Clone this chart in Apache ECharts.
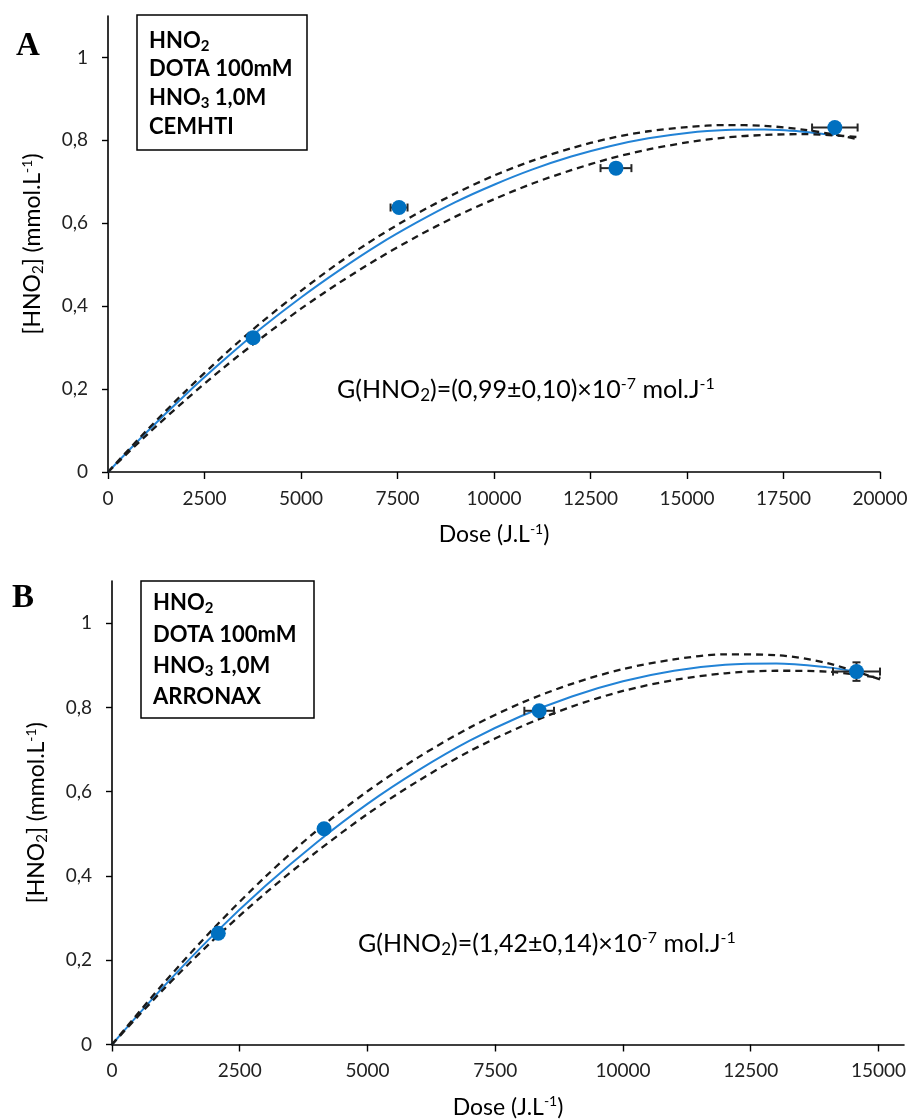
<!DOCTYPE html>
<html><head><meta charset="utf-8">
<script src="https://cdn.jsdelivr.net/npm/echarts@6/dist/echarts.min.js"></script>
<style>html,body{margin:0;padding:0;background:#fff}#c{width:911px;height:1120px}</style>
</head><body><div id="c"></div>
<script>
// ---------- data ----------
const xTicksA = [0, 2500, 5000, 7500, 10000, 12500, 15000, 17500, 20000];
const xTicksB = [0, 2500, 5000, 7500, 10000, 12500, 15000];
const yTicks = [0, 0.2, 0.4, 0.6, 0.8, 1];

// Panel A (CEMHTI)
const doseA = [3760, 7540, 13160, 18830];
const hno2A = [0.324, 0.638, 0.733, 0.831];
const doseErrA = [100, 220, 400, 590];
const hno2ErrA = [0.004, 0.006, 0.008, 0.010];
const fitA = [[0,0],[1000,0.096],[2000,0.186],[3000,0.270],[4000,0.349],[5000,0.421],[6000,0.487],[7000,0.548],[8000,0.602],[9000,0.651],[10000,0.693],[11000,0.730],[12000,0.761],[13000,0.786],[14000,0.805],[15000,0.818],[16000,0.825],[17000,0.826],[18000,0.821],[18800,0.813]];
const upperA = [[0,0],[1000,0.100],[2000,0.194],[3000,0.282],[4000,0.363],[5000,0.437],[6000,0.506],[7000,0.568],[8000,0.623],[9000,0.672],[10000,0.715],[11000,0.751],[12000,0.781],[13000,0.805],[14000,0.822],[15000,0.832],[16000,0.837],[17000,0.835],[18000,0.826],[19000,0.811],[19400,0.803]];
const lowerA = [[0,0],[1000,0.089],[2000,0.173],[3000,0.252],[4000,0.325],[5000,0.394],[6000,0.457],[7000,0.515],[8000,0.568],[9000,0.616],[10000,0.658],[11000,0.696],[12000,0.728],[13000,0.756],[14000,0.778],[15000,0.795],[16000,0.807],[17000,0.813],[18000,0.815],[19000,0.811],[19400,0.808]];

// Panel B (ARRONAX)
const doseB = [2080, 4150, 8360, 14570];
const hno2B = [0.264, 0.512, 0.792, 0.885];
const doseErrB = [60, 90, 290, 460];
const hno2ErrB = [0.004, 0.006, 0.010, 0.022];
const fitB = [[0,0],[1000,0.136],[2000,0.262],[3000,0.376],[4000,0.479],[5000,0.571],[6000,0.651],[7000,0.721],[8000,0.779],[9000,0.826],[10000,0.862],[11000,0.887],[12000,0.901],[13000,0.904],[14000,0.895],[14570,0.885]];
const upperB = [[0,0],[1000,0.144],[2000,0.277],[3000,0.398],[4000,0.507],[5000,0.601],[6000,0.682],[7000,0.752],[8000,0.810],[9000,0.856],[10000,0.891],[11000,0.914],[12000,0.926],[13000,0.924],[14000,0.905],[15040,0.866]];
const lowerB = [[0,0],[1000,0.130],[2000,0.250],[3000,0.359],[4000,0.457],[5000,0.547],[6000,0.626],[7000,0.696],[8000,0.754],[9000,0.802],[10000,0.839],[11000,0.865],[12000,0.881],[13000,0.887],[14000,0.885],[15040,0.870]];

// ---------- chart ----------
const FONT = 'Lato';
const BLUE_PT = '#0070C0';
const BLUE_LN = '#2283D6';
const numFmt = v => String(Math.round(v * 10) / 10).replace('.', ',');

function xAxisCfg(gridIndex, max, ticks) {
  return {
    type: 'value', gridIndex, min: 0, max,
    name: '{n|Dose (J.L}{sup|-1}{n|)}', nameLocation: 'middle', nameGap: 50,
    nameTextStyle: { fontFamily: FONT, fontSize: 23, color: '#000',
      rich: { n: { fontFamily: FONT, fontSize: 23, color: '#000', lineHeight: 26 },
              sup: { fontFamily: FONT, fontSize: 14, color: '#000', verticalAlign: 'top', lineHeight: 16 } } },
    axisLine: { show: true, onZero: false, lineStyle: { color: '#000', width: 1.6 } },
    axisTick: { show: true, inside: false, length: 7, customValues: ticks, lineStyle: { color: '#000', width: 1.4 } },
    axisLabel: { customValues: ticks, margin: 17, fontFamily: FONT, fontSize: 19, color: '#222', formatter: v => String(v) },
    splitLine: { show: false }
  };
}
function yAxisCfg(gridIndex) {
  return {
    type: 'value', gridIndex, min: 0, max: 1.1,
    name: '{n|[HNO}{sub|2}{n|] (mmol.L}{sup|-1}{n|)}', nameLocation: 'middle', nameGap: 62, nameRotate: 90,
    nameTextStyle: { fontFamily: FONT, fontSize: 23, color: '#000',
      rich: {
        n: { fontFamily: FONT, fontSize: 23, color: '#000', lineHeight: 26 },
        sub: { fontFamily: FONT, fontSize: 15, color: '#000', verticalAlign: 'bottom', lineHeight: 10 },
        sup: { fontFamily: FONT, fontSize: 14, color: '#000', verticalAlign: 'top', lineHeight: 16 } } },
    axisLine: { show: true, onZero: false, lineStyle: { color: '#000', width: 1.6 } },
    axisTick: { show: true, inside: false, length: 6, customValues: yTicks, lineStyle: { color: '#000', width: 1.4 } },
    axisLabel: { customValues: yTicks, margin: 20, fontFamily: FONT, fontSize: 19, color: '#222', formatter: numFmt },
    splitLine: { show: false }
  };
}
function lineSeries(idx, data, dashed) {
  return {
    type: 'line', xAxisIndex: idx, yAxisIndex: idx, data, smooth: 0.3, symbol: 'none', silent: true,
    lineStyle: dashed ? { color: '#1a1a1a', width: 2.3, type: [7, 5] } : { color: BLUE_LN, width: 2 },
    z: dashed ? 3 : 2
  };
}
function errSeries(idx, xs, ys, ex, ey) {
  return {
    type: 'custom', xAxisIndex: idx, yAxisIndex: idx, z: 4, silent: true,
    data: xs.map((x, i) => [x, ys[i], ex[i], ey[i]]),
    renderItem: (params, api) => {
      const x = api.value(0), y = api.value(1), dx = api.value(2), dy = api.value(3);
      const l = api.coord([x - dx, y]), r = api.coord([x + dx, y]);
      const t = api.coord([x, y + dy]), b = api.coord([x, y - dy]);
      const st = { stroke: '#262626', lineWidth: 2 };
      const c = 4;
      return { type: 'group', children: [
        { type: 'line', shape: { x1: l[0], y1: l[1], x2: r[0], y2: r[1] }, style: st },
        { type: 'line', shape: { x1: l[0], y1: l[1] - c, x2: l[0], y2: l[1] + c }, style: st },
        { type: 'line', shape: { x1: r[0], y1: r[1] - c, x2: r[0], y2: r[1] + c }, style: st },
        { type: 'line', shape: { x1: t[0], y1: t[1], x2: b[0], y2: b[1] }, style: st },
        { type: 'line', shape: { x1: t[0] - c, y1: t[1], x2: t[0] + c, y2: t[1] }, style: st },
        { type: 'line', shape: { x1: b[0] - c, y1: b[1], x2: b[0] + c, y2: b[1] }, style: st }
      ] };
    }
  };
}
function scatterSeries(idx, xs, ys) {
  return { type: 'scatter', xAxisIndex: idx, yAxisIndex: idx, z: 6, silent: true,
    data: xs.map((x, i) => [x, ys[i]]), symbol: 'circle', symbolSize: 15,
    itemStyle: { color: BLUE_PT, opacity: 1 } };
}

const boxRich = {
  b: { fontFamily: FONT, fontWeight: 'bold', fontSize: 22, fill: '#000', lineHeight: 26 },
  s: { fontFamily: FONT, fontWeight: 'bold', fontSize: 15, fill: '#000', verticalAlign: 'bottom', lineHeight: 10 }
};
function boxText(x, y, txt) {
  return { type: 'text', x, y, silent: true, z: 11,
    style: { text: txt, rich: boxRich, fontFamily: FONT, fontWeight: 'bold', fontSize: 22, fill: '#000', verticalAlign: 'middle', align: 'left' } };
}
const eqRich = {
  n: { fontFamily: FONT, fontSize: 25, fill: '#000', lineHeight: 28 },
  sub: { fontFamily: FONT, fontSize: 17, fill: '#000', verticalAlign: 'bottom', lineHeight: 10 },
  sup: { fontFamily: FONT, fontSize: 16, fill: '#000', verticalAlign: 'top', lineHeight: 18 }
};
function eqText(x, y, g) {
  return { type: 'text', x, y, silent: true,
    style: { text: '{n|G(HNO}{sub|2}{n|)=(' + g + ')×10}{sup|-7}{n| mol.J}{sup|-1}', rich: eqRich,
      fontFamily: FONT, fontSize: 25, fill: '#000', verticalAlign: 'middle', align: 'left' } };
}

const option = {
  animation: false,
  backgroundColor: '#fff',
  grid: [
    { left: 108, top: 16, width: 772, height: 456 },
    { left: 112, top: 581, width: 792, height: 466 }
  ],
  xAxis: [xAxisCfg(0, 20000, xTicksA), xAxisCfg(1, 15500, xTicksB)],
  yAxis: [yAxisCfg(0), yAxisCfg(1)],
  series: [
    lineSeries(0, fitA, false), lineSeries(0, upperA, true), lineSeries(0, lowerA, true),
    errSeries(0, doseA, hno2A, doseErrA, hno2ErrA), scatterSeries(0, doseA, hno2A),
    lineSeries(1, fitB, false), lineSeries(1, upperB, true), lineSeries(1, lowerB, true),
    errSeries(1, doseB, hno2B, doseErrB, hno2ErrB), scatterSeries(1, doseB, hno2B)
  ],
  graphic: [
    { type: 'text', x: 16, y: 46, style: { text: 'A', fontFamily: 'Liberation Serif', fontWeight: 'bold', fontSize: 33, fill: '#000', verticalAlign: 'middle' } },
    { type: 'text', x: 12, y: 598, style: { text: 'B', fontFamily: 'Liberation Serif', fontWeight: 'bold', fontSize: 33, fill: '#000', verticalAlign: 'middle' } },
    { type: 'rect', shape: { x: 137, y: 15, width: 170, height: 135 }, style: { fill: '#fff', stroke: '#000', lineWidth: 1.5 }, z: 10 },
    boxText(149, 41, '{b|HNO}{s|2}'),
    boxText(149, 69, '{b|DOTA 100mM}'),
    boxText(149, 98, '{b|HNO}{s|3}{b| 1,0M}'),
    boxText(149, 127, '{b|CEMHTI}'),
    { type: 'rect', shape: { x: 141, y: 581, width: 173, height: 137 }, style: { fill: '#fff', stroke: '#000', lineWidth: 1.5 }, z: 10 },
    boxText(153, 603, '{b|HNO}{s|2}'),
    boxText(153, 635, '{b|DOTA 100mM}'),
    boxText(153, 666, '{b|HNO}{s|3}{b| 1,0M}'),
    boxText(153, 697, '{b|ARRONAX}'),
    eqText(337, 390, '0,99±0,10'),
    eqText(358, 944, '1,42±0,14')
  ]
};
const chart = echarts.init(document.getElementById('c'), null, { renderer: 'canvas' });
chart.setOption(option);
</script>
</body></html>
